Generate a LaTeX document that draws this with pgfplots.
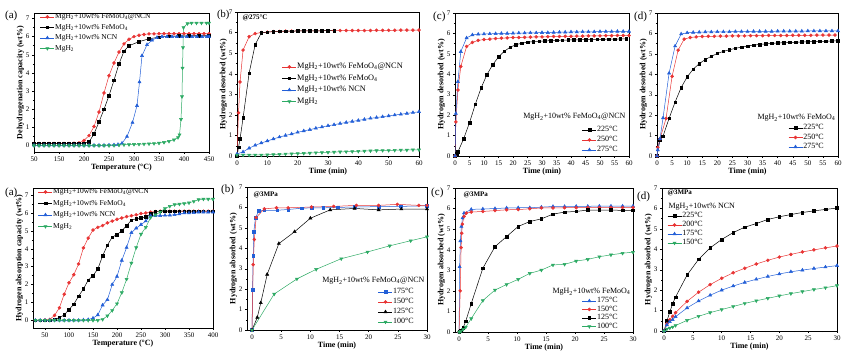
\documentclass[border=0pt]{standalone}
\usepackage{pgfplots}
\pgfplotsset{compat=1.18}
\usepackage{fontspec}
\setmainfont{Liberation Serif}
\definecolor{cred}{RGB}{232,52,52}
\definecolor{cblue}{RGB}{35,95,215}
\definecolor{cgreen}{RGB}{45,170,100}
\pgfplotsset{
  base/.style={scale only axis, axis line style={line width=0.5pt},
    tick style={line width=0.4pt, black}, tick align=outside,
    xtick pos=bottom, ytick pos=left, major tick length=2pt, minor tick length=1.2pt,
    minor x tick num=1, minor y tick num=1,
    tick label style={font=\fontsize{7}{8}\selectfont},
    /pgf/number format/assume math mode=true,
    label style={font=\bfseries\fontsize{8}{9}\selectfont},
    xlabel style={yshift=4pt}, ylabel style={yshift=-5pt},
    xticklabel style={yshift=1pt}, yticklabel style={xshift=1pt},
    ytick={0,1,...,7},
    legend cell align=left,
    legend style={draw=none, fill=none, font=\fontsize{7.5}{8}\selectfont, inner sep=0pt,
      nodes={inner sep=0.5pt, text height=5pt, text depth=1.5pt}},
    legend image code/.code={\draw[mark repeat=2,mark phase=2,##1] plot coordinates {(0pt,0pt) (7pt,0pt) (14pt,0pt)};}},
  pred/.style={color=cred, line width=0.5pt, mark=*, mark size=1.5pt},
  pblack/.style={color=black, line width=0.5pt, mark=square*, mark size=1.3pt},
  pblue/.style={color=cblue, line width=0.5pt, mark=triangle*, mark size=1.8pt},
  pbluesq/.style={color=cblue, line width=0.5pt, mark=square*, mark size=1.3pt},
  pblacktri/.style={color=black, line width=0.5pt, mark=triangle*, mark size=1.8pt},
  pgreen/.style={color=cgreen, line width=0.5pt, mark=triangle*, mark size=1.8pt, mark options={rotate=180}},
}
\begin{document}
\begin{tikzpicture}
\path[use as bounding box] (0pt,0pt) rectangle (849pt,352pt);
% ---------------- top (a)
\begin{axis}[base, at={(34pt,200pt)}, anchor=south west, width=175pt, height=139pt,
  xmin=100, xmax=450, ymin=-0.35, ymax=7.3,
  xtick={100,150,...,450}, xticklabels={50,150,200,250,300,350,400,450},
  xlabel={Temperature (°C)}, ylabel={Dehydrogenation capacity (wt\%)},
  legend style={at={(0.034,1.0)}, anchor=north west, row sep=3pt}]
\addplot[pred] coordinates {(100,0.12)(110,0.12)(120,0.12)(130,0.12)(140,0.12)(150,0.12)(160,0.12)(170,0.12)(180,0.13)(190,0.15)(200,0.28)(210,0.55)(220,1.05)(230,1.85)(240,2.9)(250,3.85)(260,4.55)(270,5.15)(280,5.6)(290,5.85)(300,6.0)(310,6.07)(320,6.12)(330,6.15)(340,6.15)(350,6.16)(360,6.16)(370,6.16)(380,6.16)(390,6.16)(400,6.16)(410,6.16)(420,6.16)(430,6.16)(440,6.16)(450,6.16)};
\addlegendentry{MgH\textsubscript{2}+10wt\% FeMoO\textsubscript{4}@NCN}
\addplot[pblack] coordinates {(100,0.12)(110,0.12)(120,0.12)(130,0.12)(140,0.12)(150,0.12)(160,0.12)(170,0.12)(180,0.12)(190,0.12)(200,0.13)(210,0.2)(220,0.65)(230,1.3)(240,2.0)(250,2.75)(260,3.6)(270,4.5)(280,5.2)(290,5.5)(310,5.72)(330,5.88)(350,5.97)(370,6.02)(390,6.04)(410,6.05)(430,6.05)(450,6.05)};
\addlegendentry{MgH\textsubscript{2}+10wt\% FeMoO\textsubscript{4}}
\addplot[pblue] coordinates {(100,0.02)(110,0.02)(120,0.02)(130,0.02)(140,0.02)(150,0.02)(160,0.02)(170,0.02)(180,0.02)(190,0.02)(200,0.02)(210,0.02)(220,0.02)(230,0.02)(240,0.02)(250,0.03)(260,0.04)(268,0.06)(276,0.13)(286,0.5)(297,1.27)(306,2.2)(311,3.5)(316,4.95)(326,5.55)(336,5.8)(346,5.95)(356,6.0)(366,6.0)(376,6.0)(386,6.0)(396,6.0)(406,6.0)(416,6.0)(426,6.0)(436,6.0)(446,6.0)(450,6.0)};
\addlegendentry{MgH\textsubscript{2}+10wt\% NCN}
\addplot[pgreen] coordinates {(100,0)(110,0)(120,0)(130,0)(140,0)(150,0)(160,0)(170,0)(180,0)(190,0)(200,0)(210,0)(220,0)(230,0)(240,0)(250,0)(260,0.01)(270,0.03)(280,0.05)(290,0.06)(300,0.07)(310,0.08)(320,0.09)(330,0.1)(340,0.12)(350,0.14)(360,0.18)(370,0.24)(380,0.32)(388,0.45)(391,0.6)(394,1.45)(396,2.7)(397,4.27)(398,5.4)(399,6.5)(407,6.72)(415,6.75)(425,6.75)(435,6.75)(445,6.75)(450,6.75)};
\addlegendentry{MgH\textsubscript{2}}
\end{axis}
% ---------------- top (b)
\begin{axis}[base, at={(237pt,196pt)}, anchor=south west, width=182pt, height=144pt,
  xmin=0, xmax=60, ymin=0, ymax=7, xtick={0,10,...,60},
  xlabel={Time (min)}, ylabel={Hydrogen desorbed (wt\%)},
  legend style={at={(0.247,0.646)}, anchor=north west, row sep=4pt, font=\fontsize{8.3}{9}\selectfont}]
\addplot[pred] coordinates {(0,0)(0.5,2.1)(1,3.6)(2,5.15)(4,5.8)(6,5.95)(8,6.0)(10,6.02)(12,6.05)(14,6.05)(16,6.07)(18,6.07)(20,6.08)(22,6.08)(24,6.08)(26,6.08)(28,6.09)(30,6.09)(32,6.1)(34,6.1)(36,6.1)(38,6.1)(40,6.1)(42,6.1)(44,6.1)(46,6.11)(48,6.11)(50,6.11)(52,6.11)(54,6.12)(56,6.12)(58,6.12)(60,6.12)};
\addlegendentry{MgH\textsubscript{2}+10wt\% FeMoO\textsubscript{4}@NCN}
\addplot[pblack] coordinates {(0,0)(0.5,0.42)(1,0.83)(2,1.85)(4,4.03)(6,5.42)(8,5.98)(10,6.02)(12,6.05)(14,6.06)(16,6.07)(18,6.07)(20,6.08)(22,6.08)(24,6.08)(26,6.08)(28,6.09)(30,6.09)(32,6.1)};
\addlegendentry{MgH\textsubscript{2}+10wt\% FeMoO\textsubscript{4}}
\addplot[pblue] coordinates {(0,0.1)(2,0.2)(4,0.38)(6,0.52)(8,0.63)(10,0.73)(12,0.83)(14,0.92)(16,1.0)(18,1.07)(20,1.15)(22,1.22)(24,1.28)(26,1.35)(28,1.41)(30,1.47)(32,1.52)(34,1.58)(36,1.63)(38,1.68)(40,1.73)(42,1.78)(44,1.83)(46,1.87)(48,1.91)(50,1.95)(52,1.99)(54,2.03)(56,2.07)(58,2.11)(60,2.15)};
\addlegendentry{MgH\textsubscript{2}+10wt\% NCN}
\addplot[pgreen] coordinates {(0,0.05)(2,0.05)(4,0.05)(6,0.05)(8,0.05)(10,0.06)(12,0.07)(14,0.08)(16,0.1)(18,0.11)(20,0.12)(22,0.13)(24,0.14)(26,0.16)(28,0.17)(30,0.18)(32,0.19)(34,0.2)(36,0.21)(38,0.22)(40,0.23)(42,0.24)(44,0.25)(46,0.26)(48,0.27)(50,0.27)(52,0.28)(54,0.29)(56,0.29)(58,0.3)(60,0.3)};
\addlegendentry{MgH\textsubscript{2}}
\end{axis}
% ---------------- top (c)
\begin{axis}[base, at={(455pt,196pt)}, anchor=south west, width=174pt, height=143pt,
  xmin=0, xmax=60, ymin=0, ymax=7, xtick={0,5,...,60}, minor x tick num=0,
  xlabel={Time (min)}, ylabel={Hydrogen desorbed (wt\%)},
  legend style={at={(0.73,0.21)}, anchor=north west, row sep=2.5pt, font=\fontsize{8}{9}\selectfont}]
\addplot[pblack] coordinates {(0,0)(0.5,0.1)(1,0.2)(3,0.85)(5,1.63)(7,2.53)(9,3.33)(11,3.98)(13,4.47)(15,4.85)(17,5.13)(19,5.32)(21,5.45)(23,5.52)(25,5.57)(27,5.6)(29,5.62)(31,5.63)(33,5.65)(35,5.66)(37,5.67)(39,5.68)(41,5.68)(43,5.69)(45,5.7)(47,5.7)(49,5.71)(51,5.71)(53,5.72)(55,5.72)(57,5.73)(59,5.73)};
\addlegendentry{225°C}
\addplot[pred] coordinates {(0,0)(0.3,1.67)(1,3.23)(2,4.38)(4,5.36)(6,5.56)(8,5.66)(10,5.7)(12,5.72)(14,5.75)(16,5.77)(18,5.78)(20,5.8)(22,5.8)(24,5.81)(26,5.82)(28,5.83)(30,5.83)(32,5.84)(34,5.85)(36,5.85)(38,5.86)(40,5.86)(42,5.87)(44,5.87)(46,5.88)(48,5.88)(50,5.88)(52,5.89)(54,5.89)(56,5.9)(58,5.9)(60,5.9)};
\addlegendentry{250°C}
\addplot[pblue] coordinates {(0,0)(0.3,2.08)(1,3.64)(2,5.11)(4,5.78)(6,5.93)(8,5.96)(10,5.97)(12,5.98)(14,5.99)(16,6.0)(18,6.0)(20,6.01)(22,6.02)(24,6.02)(26,6.03)(28,6.03)(30,6.04)(32,6.04)(34,6.05)(36,6.06)(38,6.06)(40,6.07)(42,6.07)(44,6.08)(46,6.08)(48,6.08)(50,6.09)(52,6.09)(54,6.09)(56,6.1)(58,6.1)(60,6.1)};
\addlegendentry{275°C}
\end{axis}
\node[anchor=east, font=\fontsize{8}{9}\selectfont] at (629pt,235pt) {MgH\textsubscript{2}+10wt\% FeMoO\textsubscript{4}@NCN};
% ---------------- top (d)
\begin{axis}[base, at={(657pt,196pt)}, anchor=south west, width=181pt, height=143pt,
  xmin=0, xmax=60, ymin=0, ymax=7, xtick={0,5,...,60}, minor x tick num=0,
  xlabel={Time (min)}, ylabel={Hydrogen desorbed (wt\%)},
  legend style={at={(0.724,0.224)}, anchor=north west, row sep=2pt, font=\fontsize{8}{9}\selectfont}]
\addplot[pblack] coordinates {(0,0)(1,0.8)(2,0.97)(4,1.84)(6,2.64)(8,3.35)(10,3.87)(12,4.25)(14,4.52)(16,4.72)(18,4.88)(20,5.02)(22,5.12)(24,5.2)(26,5.27)(28,5.33)(30,5.38)(32,5.43)(34,5.46)(36,5.49)(38,5.51)(40,5.53)(42,5.55)(44,5.56)(46,5.57)(48,5.58)(50,5.59)(52,5.6)(54,5.61)(56,5.62)(58,5.63)(60,5.64)};
\addlegendentry{225°C}
\addplot[pred] coordinates {(0,0)(0.25,0.42)(1,0.84)(3,1.84)(5,3.9)(7,5.18)(9,5.72)(11,5.8)(13,5.83)(15,5.85)(17,5.86)(19,5.86)(21,5.87)(23,5.87)(25,5.88)(27,5.88)(29,5.88)(31,5.89)(33,5.89)(35,5.89)(37,5.9)(39,5.9)(41,5.9)(43,5.9)(45,5.91)(47,5.91)(49,5.91)(51,5.91)(53,5.92)(55,5.92)(57,5.92)(59,5.92)};
\addlegendentry{250°C}
\addplot[pblue] coordinates {(0,0)(0.25,0.3)(1,0.85)(2,1.86)(4,4.05)(6,5.38)(8,5.97)(10,6.03)(12,6.05)(14,6.06)(16,6.07)(18,6.07)(20,6.08)(22,6.08)(24,6.08)(26,6.09)(28,6.09)(30,6.09)(32,6.1)(34,6.1)(36,6.1)(38,6.1)(40,6.11)(42,6.11)(44,6.11)(46,6.11)(48,6.11)(50,6.12)(52,6.12)(54,6.12)(56,6.12)(58,6.12)(60,6.12)};
\addlegendentry{275°C}
\end{axis}
\node[anchor=east, font=\fontsize{8}{9}\selectfont] at (839pt,234pt) {MgH\textsubscript{2}+10wt\% FeMoO\textsubscript{4}};
% ---------------- bottom (a)
\begin{axis}[base, at={(33pt,24pt)}, anchor=south west, width=180pt, height=140pt,
  xmin=25, xmax=400, ymin=-0.43, ymax=7.4, xtick={50,100,...,400},
  xlabel={Temperature (°C)}, ylabel={Hydrogen absorption capacity (wt\%)},
  legend style={at={(0.028,1.0)}, anchor=north west, row sep=4pt}]
\addplot[pred] coordinates {(30,0)(40,0)(50,0.02)(60,0.05)(70,0.28)(80,0.7)(90,1.46)(100,2.1)(110,2.55)(120,3.15)(130,4.05)(140,4.6)(150,5.05)(160,5.2)(170,5.3)(180,5.45)(190,5.55)(200,5.65)(210,5.72)(220,5.8)(230,5.85)(240,5.9)(250,5.97)(260,6.0)(270,6.05)(280,6.08)(290,6.1)(300,6.1)(310,6.1)(320,6.1)(330,6.1)(340,6.1)(350,6.1)(360,6.1)(370,6.1)(380,6.1)(390,6.1)(400,6.1)};
\addlegendentry{MgH\textsubscript{2}+10wt\% FeMoO\textsubscript{4}@NCN}
\addplot[pblack] coordinates {(30,0)(40,0)(50,0)(60,0)(70,0.05)(80,0.15)(90,0.3)(100,0.6)(110,0.9)(120,1.35)(130,1.75)(140,2.25)(150,2.5)(160,2.87)(170,3.6)(180,4.2)(190,4.65)(200,4.8)(210,5.0)(220,5.3)(230,5.6)(240,5.68)(250,5.72)(260,5.78)(270,5.95)(280,6.06)(290,6.1)(300,6.1)(310,6.1)(320,6.1)(330,6.1)(340,6.1)(350,6.1)(360,6.1)(370,6.1)(380,6.1)(390,6.1)(400,6.1)};
\addlegendentry{MgH\textsubscript{2}+10wt\% FeMoO\textsubscript{4}}
\addplot[pblue] coordinates {(30,0)(40,0)(50,0)(60,0)(70,0)(80,0)(90,0)(100,0)(110,0)(120,0)(130,0.02)(140,0.04)(150,0.12)(160,0.3)(170,0.85)(180,1.15)(190,2.0)(200,2.45)(210,3.35)(220,4.07)(230,4.9)(240,5.15)(250,5.35)(260,5.55)(270,5.85)(280,5.85)(290,5.85)(300,5.87)(310,5.88)(320,5.9)(330,5.95)(340,6.0)(350,6.0)(360,6.02)(370,6.05)(380,6.05)(390,6.05)(400,6.05)};
\addlegendentry{MgH\textsubscript{2}+10wt\% NCN}
\addplot[pgreen] coordinates {(30,0)(40,0)(50,0)(60,0)(70,0)(80,0)(90,0)(100,0)(110,0)(120,0)(130,0)(140,0)(150,0)(160,0)(170,0.05)(180,0.25)(190,0.55)(200,0.93)(210,1.55)(220,2.3)(230,3.2)(240,4.07)(250,4.82)(260,5.2)(270,5.75)(280,5.9)(290,6.05)(300,6.25)(310,6.38)(320,6.47)(330,6.5)(340,6.53)(350,6.57)(360,6.65)(370,6.75)(380,6.78)(390,6.78)(400,6.78)};
\addlegendentry{MgH\textsubscript{2}}
\end{axis}
% ---------------- bottom (b)
\begin{axis}[base, at={(247pt,22pt)}, anchor=south west, width=180pt, height=143pt,
  xmin=-0.86, xmax=30, ymin=0, ymax=7, xtick={0,5,...,30},
  xlabel={Time (min)}, ylabel={Hydrogen absorbed (wt\%)},
  legend style={at={(0.728,0.294)}, anchor=north west, row sep=2.5pt, font=\fontsize{8}{9}\selectfont}]
\addplot[pbluesq] coordinates {(0,0)(0.1,1.98)(0.2,3.62)(0.3,4.8)(0.6,5.5)(1.2,5.85)(2.1,5.86)(4.3,5.86)(6.2,5.9)(8.5,5.96)(10.2,5.98)(12.2,5.98)(14.7,6.0)(17.6,6.02)(21.7,6.04)(25.5,6.05)(30,6.08)};
\addlegendentry{175°C}
\addplot[pred] coordinates {(0,0)(0.2,3.2)(0.4,4.43)(0.7,5.5)(2.1,5.93)(4.2,5.98)(6.2,5.98)(10.2,6.02)(14,6.05)(17.9,6.1)(21.7,6.1)(24.9,6.15)(28.6,6.1)(30,6.1)};
\addlegendentry{150°C}
\addplot[pblacktri] coordinates {(0,0)(0.9,0.61)(1.5,1.33)(2.6,2.72)(4.6,4.23)(7.3,4.81)(10,5.47)(13.4,5.88)(17.6,5.95)(21.7,5.88)(25.6,5.92)(30,5.92)};
\addlegendentry{125°C}
\addplot[pgreen] coordinates {(0,0)(3.8,1.76)(7.7,2.5)(11,2.97)(15.3,3.49)(19.8,3.82)(23.6,4.12)(27.2,4.37)(30,4.56)};
\addlegendentry{100°C}
\end{axis}
\node[anchor=east, font=\fontsize{8}{9}\selectfont] at (428pt,71pt) {MgH\textsubscript{2}+10wt\% FeMoO\textsubscript{4}@NCN};
% ---------------- bottom (c)
\begin{axis}[base, at={(455pt,20pt)}, anchor=south west, width=178pt, height=144pt,
  xmin=-0.7, xmax=30, ymin=0, ymax=7, xtick={0,5,...,30},
  xlabel={Time (min)}, ylabel={Hydrogen absorbed (wt\%)},
  legend style={at={(0.713,0.243)}, anchor=north west, row sep=1pt, font=\fontsize{8}{9}\selectfont}]
\addplot[pblue] coordinates {(0,0)(0.1,3.17)(0.23,4.43)(0.4,5.13)(0.6,5.54)(0.86,5.78)(2.1,5.96)(4.1,5.98)(6.2,6.0)(8.2,6.03)(10.2,6.04)(12.2,6.04)(14.2,6.07)(16.2,6.1)(18.2,6.1)(20.2,6.11)(22.2,6.11)(24.2,6.12)(26.2,6.12)(28.2,6.12)(30,6.12)};
\addlegendentry{175°C}
\addplot[pred] coordinates {(0,0)(0.2,2.0)(0.35,4.1)(0.46,4.8)(0.57,5.24)(0.86,5.62)(1.26,5.78)(2.1,5.83)(4.1,5.86)(6.2,5.9)(8.2,5.94)(10.2,5.95)(12.2,5.99)(14.2,6.03)(16.2,6.03)(18.2,6.04)(20.2,6.04)(22.2,6.05)(24.2,6.05)(26.2,6.05)(28.2,6.05)(30,6.05)};
\addlegendentry{150°C}
\addplot[pblack] coordinates {(0,0)(0.3,0.08)(0.7,0.21)(1.15,0.52)(2.1,1.38)(4.1,3.1)(6.2,4.15)(8.2,4.64)(10.2,5.13)(12.2,5.37)(14.2,5.5)(16.2,5.73)(18.2,5.83)(20.2,5.86)(22.2,5.93)(24.2,5.93)(26.2,5.93)(28.2,5.91)(30,5.92)};
\addlegendentry{125°C}
\addplot[pgreen] coordinates {(0,0)(0.3,0.03)(0.7,0.13)(1.15,0.24)(2.1,0.65)(4.1,1.53)(6.2,2.04)(8.2,2.31)(10.2,2.56)(12.2,2.85)(14.2,3.01)(16.2,3.26)(18.2,3.29)(20.2,3.45)(22.2,3.53)(24.2,3.66)(26.2,3.75)(28.2,3.83)(30,3.88)};
\addlegendentry{100°C}
\end{axis}
\node[anchor=east, font=\fontsize{8}{9}\selectfont] at (634pt,60pt) {MgH\textsubscript{2}+10wt\% FeMoO\textsubscript{4}};
% ---------------- bottom (d)
\begin{axis}[base, at={(662pt,21pt)}, anchor=south west, width=175pt, height=143pt,
  xmin=-0.35, xmax=30, ymin=0, ymax=7, xtick={0,5,...,30},
  xlabel={Time (min)}, ylabel={Hydrogen absorbed (wt\%)},
  legend style={at={(0.029,0.832)}, anchor=north west, row sep=1.5pt, font=\fontsize{8}{9}\selectfont}]
\addplot[pblack] coordinates {(0,0)(0.5,0.49)(1,0.93)(1.5,1.34)(2,1.66)(4,2.74)(6,3.51)(8,4.07)(10,4.48)(12,4.82)(14,5.08)(16,5.26)(18,5.46)(20,5.59)(22,5.7)(24,5.8)(26,5.88)(28,5.95)(30,6.02)};
\addlegendentry{225°C}
\addplot[pred] coordinates {(0,0)(0.5,0.35)(1,0.55)(1.5,0.72)(2,0.9)(4,1.45)(6,1.9)(8,2.27)(10,2.58)(12,2.85)(14,3.07)(16,3.28)(18,3.46)(20,3.62)(22,3.75)(24,3.87)(26,3.97)(28,4.07)(30,4.16)};
\addlegendentry{200°C}
\addplot[pblue] coordinates {(0,0)(0.5,0.3)(1,0.45)(1.5,0.55)(2,0.7)(4,1.13)(6,1.47)(8,1.75)(10,2.0)(12,2.2)(14,2.38)(16,2.53)(18,2.67)(20,2.79)(22,2.9)(24,2.98)(26,3.06)(28,3.13)(30,3.2)};
\addlegendentry{175°C}
\addplot[pgreen] coordinates {(0,0)(0.5,0.1)(1,0.15)(1.5,0.2)(2,0.27)(4,0.52)(6,0.72)(8,0.9)(10,1.05)(12,1.2)(14,1.35)(16,1.48)(18,1.6)(20,1.72)(22,1.83)(24,1.93)(26,2.03)(28,2.12)(30,2.22)};
\addlegendentry{150°C}
\end{axis}
\node[anchor=west, font=\fontsize{8}{9}\selectfont] at (665pt,145pt) {MgH\textsubscript{2}+10wt\% NCN};
% ---------------- annotations
\node[anchor=west, font=\bfseries\fontsize{7}{8}\selectfont] at (239pt,334pt) {@275°C};
\node[anchor=west, font=\bfseries\fontsize{7}{8}\selectfont] at (250pt,157pt) {@3MPa};
\node[anchor=west, font=\bfseries\fontsize{7}{8}\selectfont] at (460pt,157pt) {@3MPa};
\node[anchor=west, font=\bfseries\fontsize{7}{8}\selectfont] at (664pt,159pt) {@3MPa};
\node[anchor=west, font=\fontsize{11}{12}\selectfont, inner sep=0pt] at (5pt,336pt) {(a)};
\node[anchor=west, font=\fontsize{10.5}{12}\selectfont, inner sep=0pt] at (217pt,337pt) {(b)};
\node[anchor=west, font=\fontsize{11}{12}\selectfont, inner sep=0pt] at (433pt,335pt) {(c)};
\node[anchor=west, font=\fontsize{11}{12}\selectfont, inner sep=0pt] at (634pt,335pt) {(d)};
\node[anchor=west, font=\fontsize{11}{12}\selectfont, inner sep=0pt] at (5pt,159pt) {(a)};
\node[anchor=west, font=\fontsize{11}{12}\selectfont, inner sep=0pt] at (221pt,162pt) {(b)};
\node[anchor=west, font=\fontsize{11}{12}\selectfont, inner sep=0pt] at (431pt,159pt) {(c)};
\node[anchor=west, font=\fontsize{11}{12}\selectfont, inner sep=0pt] at (637pt,155pt) {(d)};
\end{tikzpicture}
\end{document}
